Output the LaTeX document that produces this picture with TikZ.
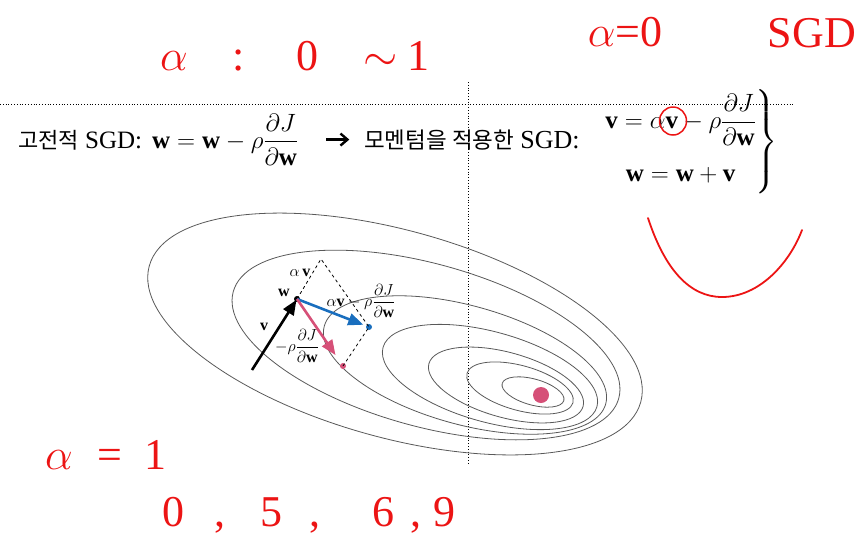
\RequirePackage{fix-cm}
\documentclass[tikz,border=0pt]{standalone}
\usepackage{amsmath}
\usepackage{fontspec}
\setmainfont{Liberation Serif}
\newfontfamily\kr{Noto Sans CJK KR}
\usetikzlibrary{arrows.meta}
\usetikzlibrary{positioning}

\definecolor{stepblue}{RGB}{25,110,190}
\definecolor{steppink}{RGB}{214,80,120}
\definecolor{inkred}{RGB}{236,20,20}

\begin{document}
\begin{tikzpicture}[x=1pt,y=-1pt,
    contour/.style={draw=black!65,line width=0.8pt},
    guide/.style={dotted,line width=0.8pt},
    vecarrow/.style={line width=2.6pt,-{Triangle[length=15pt,width=12pt]}},
    dot/.style={circle,inner sep=0pt,minimum size=6pt},
    lbl/.style={inner sep=1pt,font=\fontsize{16}{19}\selectfont},
    big/.style={inner sep=0pt,font=\fontsize{25}{28}\selectfont},
    ink/.style={draw=inkred,line width=1.8pt,line cap=round},
    inktext/.style={inner sep=0pt,text=inkred,font=\fontsize{44}{44}\selectfont}]
        \useasboundingbox (0,0) rectangle (862,550);
        \draw[guide](0,104)--(795,104);
        \draw[guide](468,82)--(468,465);
        % formulas
        \node[big,anchor=base west] (old) at (18,148) {{\kr\fontsize{22}{26}\selectfont 고전적} SGD:};
        \node[big,anchor=base west] (oldeq) at (152,148) {\fontsize{25}{28}\selectfont$\mathbf{w}=\mathbf{w}-\rho\dfrac{\partial J}{\partial\mathbf{w}}$};
        \node[big,anchor=base west] (new) at (364,148) {{\kr\fontsize{22.5}{26}\selectfont 모멘텀을 적용한} \fontsize{26}{28}\selectfont SGD:};
        \node[big,anchor=west] (neweq) at (604,142) {\fontsize{25}{28}\selectfont$\left.\begin{gathered}\mathbf{v}=\alpha\mathbf{v}-\rho\dfrac{\partial J}{\partial\mathbf{w}}\\[12pt] \mathbf{w}=\mathbf{w}+\mathbf{v}\end{gathered}\right\}$};
        \draw[line width=2.4pt,-{Straight Barb[length=7pt,width=12pt]}](oldeq.east)++(28,0)--++(23,0);
        % contours
        \foreach \cx/\cy/\r in {395/334/255, 426/345/200, 465/365/146, 490/377/111, 506/385/80, 520/388/55, 533/392/32}
            \draw[contour,rotate around={-15.5:(\cx,\cy)}](\cx,\cy) ellipse[x radius=\r,y radius=\r/2.46];
        \fill[steppink] (541,395) circle(8);
        % step vectors
        \coordinate (vstart) at (252,370);
        \coordinate (apex) at (321,259);
        \node[dot,fill=black] (w) at (297,299) {};
        \node[dot,fill=stepblue] (wblue) at (369,327) {};
        \node[dot,fill=steppink] (wpink) at (343,366) {};
        \draw[dashed,line width=0.8pt](w.center)--(apex)--(wblue.center)--(wpink.center);
        \draw[vecarrow,black,shorten >=1pt](vstart)--(w.center);
        \draw[vecarrow,stepblue,shorten >=3pt](w.center)--(wblue);
        \draw[vecarrow,steppink,shorten >=10pt](w.center)--(wpink);
        \node[lbl] (lalpha) at (300,273) {$\alpha\,\mathbf{v}$};
        \node[lbl] (lw) at (284,293) {$\mathbf{w}$};
        \node[lbl] (lv) at (264,327) {$\mathbf{v}$};
        \node[lbl] (lsum) at (361,301) {$\alpha\mathbf{v}-\rho\dfrac{\partial J}{\partial\mathbf{w}}$};
        \node[lbl] (lgrad) at (297,346) {$-\rho\dfrac{\partial J}{\partial\mathbf{w}}$};
        % handwritten notes
        \node[inktext,anchor=west] (note1) at (160,56) {$\alpha$\hspace{45pt}:\hspace{51pt}0\hspace{45pt}$\sim$\hspace{10pt}1};
        \node[inktext] (note2) at (625,32) {$\alpha$=0};
        \node[inktext] (note3) at (812,33) {SGD};
        \node[inktext,anchor=west] (note4) at (45,455) {$\alpha$\hspace{25pt}=\hspace{22pt}1};
        \node[inktext,anchor=west] (note5) at (162,515) {0\hspace{30pt},\hspace{35pt}5\hspace{27pt},\hspace{52pt}6\hspace{16pt},\hspace{12pt}9};
        \draw[ink,line width=1.5pt] (673,121) ellipse(13.5 and 14);
        \draw[ink] (648,218) .. controls (665,270) and (690,297) .. (722,297) .. controls (760,297) and (790,262) .. (802,230);
    \end{tikzpicture}
\end{document}
